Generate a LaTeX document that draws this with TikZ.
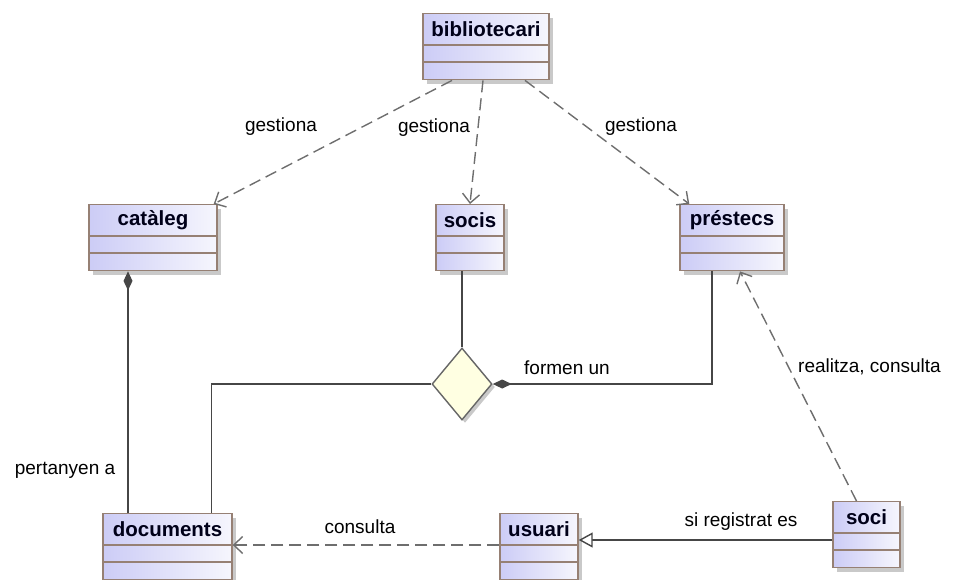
\documentclass[tikz,border=0pt]{standalone}
\usepackage{fontspec}
\setmainfont{Liberation Sans}
\usetikzlibrary{arrows.meta,shapes.geometric,shadows}

\definecolor{clsblue}{RGB}{204,204,246}
\definecolor{clslight}{RGB}{246,246,253}
\definecolor{clsborder}{RGB}{150,128,116}
\definecolor{assocfill}{RGB}{255,255,226}
\definecolor{linegray}{RGB}{70,70,70}
\definecolor{dashgray}{RGB}{110,110,110}

% one UML class: name, x, top y, width, text
\newcommand{\classbox}[5]{%
  \node[clsbox, minimum width=#4, anchor=north] (#1) at (#2,#3) {};
  \node[clsname] (#1-name) at ([yshift=-16pt]#1.north) {#5};
  \draw[clsline] ([yshift=-32pt]#1.north west) -- ([yshift=-32pt]#1.north east);
  \draw[clsline] ([yshift=-49pt]#1.north west) -- ([yshift=-49pt]#1.north east);
}

\begin{document}
\begin{tikzpicture}[x=1pt,y=-1pt,
    clsbox/.style={rectangle, draw=clsborder, line width=1.4pt, minimum height=66pt,
      inner sep=0pt, left color=clsblue, right color=clslight,
      drop shadow={shadow xshift=4pt, shadow yshift=-4pt, fill=gray!60, opacity=0.7}},
    clsname/.style={font=\fontsize{20.5}{24}\selectfont\bfseries, text=black!90!blue, inner sep=0pt},
    clsline/.style={draw=clsborder, line width=1.3pt},
    lbl/.style={font=\fontsize{19}{22}\selectfont, text=black, inner sep=0pt},
    dep/.style={draw=dashgray, line width=1.4pt, dash pattern=on 12pt off 6pt,
      -{Straight Barb[length=9pt, width=17pt, line width=1.4pt]}},
    solidline/.style={draw=linegray, line width=1.4pt},
    comp/.style={solidline, -{Diamond[length=19pt, width=9pt]}},
    gen/.style={solidline, -{Triangle[open, length=14pt, width=15pt, fill=white]}}]
    \useasboundingbox (0,0) rectangle (953,579);

    \classbox{biblio}{486}{13}{126}{bibliotecari}
    \classbox{cat}{153}{204}{128}{catàleg}
    \classbox{socis}{470}{204}{68}{socis}
    \classbox{prestecs}{732}{204}{104}{préstecs}
    \classbox{docs}{167.5}{513}{129}{documents}
    \classbox{usuari}{539}{513}{78}{usuari}
    \classbox{soci}{866.5}{501}{67}{soci}

    \node[diamond, draw=gray!80!black, line width=1.4pt, fill=assocfill, inner sep=0pt,
      minimum width=60pt, minimum height=72pt,
      drop shadow={shadow xshift=3pt, shadow yshift=-3pt, fill=gray!60, opacity=0.7}]
      (assoc) at (462,384) {};

    % gestiona
    \draw[dep] ([xshift=-34pt]biblio.south) -- ([xshift=-4pt]cat.north east);
    \draw[dep] ([xshift=-3pt]biblio.south) -- (socis.north);
    \draw[dep] ([xshift=39pt]biblio.south) -- ([xshift=10pt]prestecs.north west);
    \node[lbl] (gest1) at (281,127) {gestiona};
    \node[lbl] (gest2) at (434,128) {gestiona};
    \node[lbl] (gest3) at (641,127) {gestiona};

    % associacio
    \draw[solidline] (socis.south -| assoc.north) -- (assoc.north);
    \draw[solidline] (assoc.west) -| ([xshift=44pt]docs.north);
    \draw[comp] ([xshift=-20pt]prestecs.south) |- (assoc.east);
    \node[lbl, anchor=west] (formen) at (524,368) {formen un};

    % catàleg - documents
    \draw[comp] ([xshift=-25pt]cat.south |- docs.north) -- ([xshift=-25pt]cat.south);
    \node[lbl] (pertanyen) at (65,470) {pertanyen a};

    % soci, usuari
    \draw[dep] ([xshift=-10pt]soci.north) -- ([xshift=8pt]prestecs.south);
    \node[lbl, anchor=west] (realitza) at (798,367) {realitza, consulta};
    \draw[gen] ([yshift=-39pt]soci.north west) -- ([yshift=-39pt]soci.north west -| usuari.east);
    \node[lbl] (registrat) at (741,522) {si registrat es};
    \draw[dep] ([yshift=-32pt]usuari.north west) -- ([yshift=-32pt]usuari.north west -| docs.east);
    \node[lbl] (consulta) at (360,527) {consulta};
\end{tikzpicture}
\end{document}
